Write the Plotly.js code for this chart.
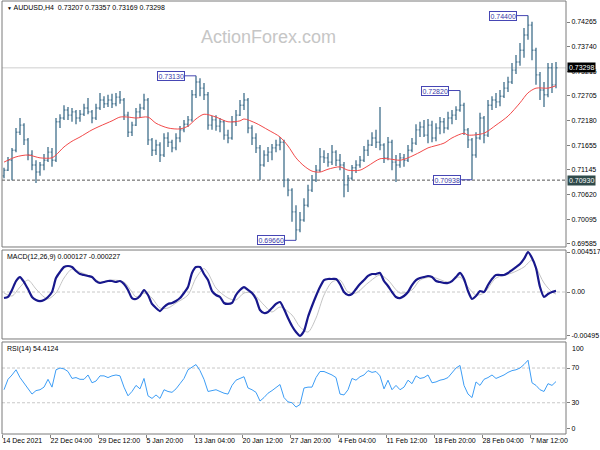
<!DOCTYPE html>
<html><head><meta charset="utf-8">
<script src="https://cdn.plot.ly/plotly-3.0.1.min.js"></script>
<style>html,body{margin:0;padding:0;background:#fff}#chart{width:600px;height:450px}</style>
</head><body><div id="chart"></div>
<script>
// ---------- data ----------
const symbol = 'AUDUSD,H4';
const lastBarText = ['0.73207', '0.73357', '0.73169', '0.73298'];

const open = [
 .7102,.7114,.7135,.7156,.7194,.7209,.7178,.7146,.7125,.7110,
 .7125,.7135,.7152,.7135,.7216,.7224,.7241,.7230,.7237,.7224,
 .7232,.7245,.7237,.7224,.7245,.7262,.7254,.7262,.7254,.7268,
 .7262,.7230,.7194,.7209,.7237,.7245,.7262,.7178,.7156,.7167,
 .7146,.7182,.7173,.7161,.7182,.7199,.7211,.7220,.7273,.7300,
 .7287,.7273,.7209,.7220,.7207,.7216,.7188,.7182,.7216,.7230,
 .7251,.7262,.7203,.7182,.7161,.7125,.7146,.7152,.7161,.7167,
 .7173,.7093,.7072,.7026,.6988,.7009,.7040,.7072,.7093,.7114,
 .7142,.7140,.7131,.7152,.7135,.7125,.7083,.7097,.7119,.7125,
 .7135,.7156,.7167,.7182,.7173,.7167,.7140,.7173,.7131,.7125,
 .7140,.7135,.7156,.7171,.7199,.7205,.7188,.7209,.7182,.7203,
 .7216,.7203,.7224,.7230,.7241,.7251,.7199,.7178,.7146,.7182,
 .7224,.7188,.7251,.7262,.7258,.7270,.7287,.7300,.7325,.7342,
 .7367,.7399,.7420,.7367,.7315,.7283,.7273,.7330,.7294];
const high = [
 .7119,.7142,.7161,.7203,.7224,.7213,.7182,.7156,.7135,.7131,
 .7148,.7163,.7161,.7224,.7232,.7251,.7247,.7245,.7241,.7241,
 .7254,.7266,.7241,.7254,.7277,.7270,.7273,.7275,.7277,.7281,
 .7266,.7237,.7216,.7245,.7254,.7275,.7266,.7182,.7178,.7173,
 .7192,.7194,.7178,.7192,.7207,.7220,.7228,.7283,.7313,.7308,
 .7298,.7279,.7228,.7230,.7224,.7220,.7199,.7228,.7241,.7262,
 .7277,.7266,.7209,.7192,.7167,.7156,.7163,.7169,.7178,.7184,
 .7178,.7097,.7076,.7040,.7026,.7055,.7083,.7104,.7125,.7161,
 .7156,.7150,.7167,.7156,.7148,.7131,.7104,.7125,.7135,.7144,
 .7165,.7178,.7194,.7199,.7247,.7171,.7184,.7178,.7146,.7150,
 .7148,.7167,.7182,.7211,.7216,.7220,.7222,.7218,.7213,.7226,
 .7224,.7237,.7241,.7249,.7282,.7256,.7203,.7182,.7194,.7235,
 .7228,.7262,.7270,.7277,.7283,.7300,.7311,.7340,.7357,.7382,
 .7414,.7440,.7427,.7372,.7321,.7300,.7340,.7340,.7342];
const low = [
 .7097,.7112,.7093,.7152,.7188,.7167,.7135,.7114,.7087,.7102,
 .7114,.7131,.7121,.7131,.7203,.7220,.7220,.7216,.7211,.7216,
 .7228,.7232,.7213,.7220,.7241,.7245,.7247,.7245,.7249,.7254,
 .7220,.7184,.7186,.7207,.7224,.7241,.7167,.7144,.7146,.7131,
 .7142,.7163,.7152,.7156,.7173,.7194,.7205,.7216,.7266,.7270,
 .7262,.7199,.7199,.7197,.7194,.7178,.7171,.7178,.7207,.7228,
 .7241,.7192,.7167,.7150,.7093,.7121,.7131,.7135,.7152,.7156,
 .7078,.7059,.7005,.6966,.6983,.7005,.7036,.7068,.7089,.7110,
 .7129,.7121,.7125,.7123,.7114,.7057,.7068,.7093,.7108,.7119,
 .7131,.7144,.7165,.7161,.7156,.7129,.7135,.7114,.7089,.7119,
 .7121,.7131,.7152,.7167,.7184,.7184,.7171,.7173,.7175,.7190,
 .7192,.7199,.7211,.7220,.7237,.7188,.7161,.70938,.7140,.7178,
 .7171,.7184,.7241,.7245,.7249,.7266,.7279,.7296,.7317,.7334,
 .7351,.7389,.7346,.7294,.7262,.7247,.7268,.7277,.7287];
const close = [
 .7114,.7135,.7156,.7194,.7209,.7178,.7146,.7125,.7110,.7125,
 .7135,.7152,.7135,.7216,.7224,.7241,.7230,.7237,.7224,.7232,
 .7245,.7237,.7224,.7245,.7262,.7254,.7262,.7254,.7268,.7262,
 .7230,.7194,.7209,.7237,.7245,.7262,.7178,.7156,.7167,.7146,
 .7182,.7173,.7161,.7182,.7199,.7211,.7220,.7273,.7300,.7287,
 .7273,.7209,.7220,.7207,.7216,.7188,.7182,.7216,.7230,.7251,
 .7262,.7203,.7182,.7161,.7125,.7146,.7152,.7161,.7167,.7173,
 .7093,.7072,.7026,.6988,.7009,.7040,.7072,.7093,.7114,.7142,
 .7140,.7131,.7152,.7135,.7125,.7083,.7097,.7119,.7125,.7135,
 .7156,.7167,.7182,.7173,.7167,.7140,.7173,.7131,.7125,.7140,
 .7135,.7156,.7171,.7199,.7205,.7188,.7209,.7182,.7203,.7216,
 .7203,.7224,.7230,.7241,.7251,.7199,.7178,.7146,.7182,.7224,
 .7188,.7251,.7262,.7258,.7270,.7287,.7300,.7325,.7342,.7367,
 .7399,.7420,.7367,.7315,.7283,.7273,.7330,.7294,.7330];

const maBars = [0,3,6,9,12,13,15,17,19,22,24,27,29,31,33,36,38,41,44,46,48,50,53,56,59,60,63,66,69,71,73,75,77,79,81,84,86,89,91,94,96,99,101,104,106,110,112,115,116,120,123,126,129,131,133,136,138];
const maValues = [.7131,.7142,.7146,.7140,.7140,.7146,.7163,.7175,.7184,.7199,.7207,.7218,.7226,.7226,.7224,.7226,.7213,.7203,.7201,.7207,.7222,.7232,.7226,.7216,.7218,.7222,.7213,.7199,.7184,.7165,.7140,.7123,.7112,.7110,.7116,.7121,.7114,.7114,.7123,.7138,.7138,.7135,.7140,.7152,.7161,.7171,.7182,.7192,.7188,.7192,.7209,.7228,.7256,.7277,.7287,.7287,.7292];

const macd = [
 -0.00068,-0.00056,0.00023,0.00124,0.00169,0.00113,0.00034,-0.00056,-0.00090,-0.00102,
 -0.00090,-0.00056,0,0.00158,0.00226,0.00282,0.00294,0.00282,0.00237,0.00203,
 0.00192,0.00181,0.00169,0.00124,0.00102,0.00113,0.00124,0.00124,0.00113,0.00124,
 0.00090,0.00023,-0.00068,-0.00079,-0.00045,0.00023,-0.00034,-0.00135,-0.00181,-0.00215,
 -0.00169,-0.00135,-0.00124,-0.00102,-0.00068,-0.00011,0.00056,0.00215,0.00282,0.00282,
 0.00203,0.00135,0.00011,-0.00034,-0.00056,-0.00124,-0.00135,-0.00124,-0.00034,0.00023,
 0.00056,0.00023,-0.00011,-0.00079,-0.00203,-0.00237,-0.00226,-0.00181,-0.00135,-0.00113,
 -0.00192,-0.00294,-0.00384,-0.00452,-0.00495,-0.00440,-0.00282,-0.00158,-0.00045,0.00056,
 0.00135,0.00147,0.00147,0.00147,0.00090,0,-0.00034,-0.00023,0.00034,0.00090,
 0.00135,0.00181,0.00203,0.00203,0.00215,0.00124,0.00068,0,-0.00056,-0.00068,
 -0.00045,0,0.00079,0.00135,0.00158,0.00169,0.00181,0.00169,0.00124,0.00113,
 0.00102,0.00102,0.00124,0.00169,0.00215,0.00147,0.00011,-0.00079,-0.00045,0.00011,
 0,0.00079,0.00147,0.00192,0.00192,0.00192,0.00215,0.00248,0.00282,0.00316,
 0.00373,0.004517,0.00384,0.00271,0.00056,-0.00056,-0.00023,0,0.000127];

const sigBars = [0,2,4,6,8,10,11,13,15,17,19,22,24,27,30,32,33,35,37,39,41,43,46,48,50,51,53,56,58,60,62,65,67,69,72,74,76,78,80,82,84,86,88,91,94,96,99,102,104,107,111,114,116,118,120,123,127,130,132,133,135,137,138];
const sigValues = [-0.00011,-0.00045,0.00056,0.00135,0.00034,-0.00056,-0.00079,-0.00011,0.00158,0.00260,0.00226,0.00169,0.00113,0.00135,0.00113,0,-0.00056,-0.00011,-0.00068,-0.00181,-0.00181,-0.00124,-0.00034,0.00158,0.00265,0.00215,0.00045,-0.00068,-0.00090,-0.00011,-0.00011,-0.00147,-0.00226,-0.00169,-0.00260,-0.00395,-0.00452,-0.00294,-0.00034,0.00113,0.00135,0,-0.00011,0.00102,0.00192,0.00135,-0.00011,0.00023,0.00135,0.00169,0.00113,0.00169,0.00056,-0.00034,-0.00011,0.00158,0.00215,0.00282,0.00361,0.00282,0.00102,0,-0.000227];

const rsi = [
 45,57,62,68,59,53,47,40,44,45,
 48,57,48,68,70,69,66,58,59,57,
 57,62,53,55,61,61,59,61,62,61,
 48,38,43,50,46,58,38,35,39,35,
 45,43,42,46,52,58,68,71,74,67,
 57,43,44,45,43,41,40,50,56,58,
 60,47,45,42,32,36,41,44,47,51,
 36,31,30,25,28,47,48,48,59,66,
 66,64,62,59,40,39,45,58,56,60,
 62,67,65,66,61,46,56,45,50,45,
 48,56,52,61,58,59,62,53,54,56,
 57,59,65,70,73,50,40,36,54,50,
 57,59,62,58,60,62,65,67,68,70,
 74,79,53,50,45,43,52,50,54.4124];

const dateLabels = ['14 Dec 2021','22 Dec 04:00','29 Dec 12:00','5 Jan 20:00','13 Jan 04:00','20 Jan 12:00','27 Jan 20:00','4 Feb 04:00','11 Feb 12:00','18 Feb 20:00','28 Feb 04:00','7 Mar 12:00'];
const dateLabelBars = [0,12,24,36,48,60,72,84,96,108,120,132];

const priceTicks = [0.74265,0.73740,0.73215,0.72705,0.72180,0.71655,0.71145,0.70620,0.70095,0.69585];
const priceTickText = ['0.74265','0.73740','0.73215','0.72705','0.72180','0.71655','0.71145','0.70620','0.70095','0.69585'];
const macdTicks = [0.004517, 0, -0.00495];
const macdTickText = ['0.004517','0.00','-0.00495'];
const rsiLevels = [70, 30];
const rsiTicks = [70, 30, 0];
const rsiTop = '100';

const currentPrice = 0.73298;
const supportLevel = 0.70930;

const markLabels = ['0.73130','0.69660','0.74400','0.72820','0.70938'];
const markBars = [48, 73, 131, 114, 117];
const markPrices = [0.73130, 0.69660, 0.74400, 0.72820, 0.70938];

const macdTitle = 'MACD(12,26,9) 0.000127 -0.000227';
const rsiTitle = 'RSI(14) 54.4124';
const watermark = 'ActionForex.com';

// ---------- chart ----------
const FONT = 'Liberation Sans, Arial, sans-serif';
const bars = open.map((_, i) => i);
const BAR_COLOR = '#4f7a94';

const D_MAIN = [0.4319, 1], D_MACD = [0.2194, 0.4249], D_RSI = [0.012, 0.2125];

const traces = [
  {type: 'ohlc', x: bars, open: open, high: high, low: low, close: close,
   xaxis: 'x', yaxis: 'y', tickwidth: 0.35, hoverinfo: 'skip',
   increasing: {line: {color: BAR_COLOR, width: 1.4}},
   decreasing: {line: {color: BAR_COLOR, width: 1.4}}, showlegend: false},
  {type: 'scatter', mode: 'lines', x: maBars, y: maValues, xaxis: 'x', yaxis: 'y',
   line: {color: '#f24a4a', width: 1, shape: 'spline', smoothing: 0.8}, hoverinfo: 'skip', showlegend: false},
  {type: 'scatter', mode: 'lines', x: sigBars, y: sigValues, xaxis: 'x', yaxis: 'y2',
   line: {color: '#c4c4c4', width: 1, shape: 'spline', smoothing: 0.8}, hoverinfo: 'skip', showlegend: false},
  {type: 'scatter', mode: 'lines', x: bars, y: macd, xaxis: 'x', yaxis: 'y2',
   line: {color: '#18188c', width: 2.2, shape: 'spline', smoothing: 0.6}, hoverinfo: 'skip', showlegend: false},
  {type: 'scatter', mode: 'lines', x: bars, y: rsi, xaxis: 'x', yaxis: 'y3',
   line: {color: '#3d9df5', width: 1}, hoverinfo: 'skip', showlegend: false}
];

const tickFont = {family: FONT, size: 7, color: '#000'};
const yCommon = {side: 'right', anchor: 'x', showgrid: false, zeroline: false,
  ticks: 'outside', ticklen: 3, tickcolor: '#808080', tickfont: tickFont,
  showline: false, fixedrange: true};

const shapes = [];
// panel frames (the RSI frame reaches down to the time axis)
[D_MAIN, D_MACD, [0, D_RSI[1]]].forEach(d => shapes.push({type: 'rect', xref: 'paper', yref: 'paper',
  x0: 0, x1: 1, y0: d[0], y1: d[1], line: {color: '#7a7a7a', width: 1}, layer: 'above'}));
// current price line and support level
shapes.push({type: 'line', xref: 'paper', x0: 0, x1: 1, yref: 'y', y0: currentPrice, y1: currentPrice,
  line: {color: '#cfcfcf', width: 1}, layer: 'below'});
shapes.push({type: 'line', xref: 'paper', x0: 0, x1: 1, yref: 'y', y0: supportLevel, y1: supportLevel,
  line: {color: '#555555', width: 1, dash: '3px,2px'}, layer: 'below'});
// MACD zero line
shapes.push({type: 'line', xref: 'paper', x0: 0, x1: 1, yref: 'y2', y0: 0, y1: 0,
  line: {color: '#c8c8c8', width: 1, dash: '3px,2px'}, layer: 'below'});
// RSI levels
rsiLevels.forEach(v => shapes.push({type: 'line', xref: 'paper', x0: 0, x1: 1, yref: 'y3', y0: v, y1: v,
  line: {color: '#c8c8c8', width: 1, dash: '3px,2px'}, layer: 'below'}));

const annotations = [];
annotations.push({xref: 'paper', yref: 'paper', x: 0, y: 1, xanchor: 'left', yanchor: 'top', xshift: 3, yshift: -1,
  showarrow: false, text: '<span style="font-size:5px">▼</span> ' + symbol + '  ' + lastBarText.join(' '),
  font: {family: FONT, size: 7, color: '#000'}});
annotations.push({xref: 'paper', yref: 'paper', x: 0.472, y: 0.917, xanchor: 'center', yanchor: 'middle',
  showarrow: false, text: watermark, font: {family: FONT, size: 18, color: '#c6c6c6'}});
annotations.push({xref: 'paper', yref: 'paper', x: 0, y: D_MACD[1], xanchor: 'left', yanchor: 'top', xshift: 3, yshift: -1,
  showarrow: false, text: macdTitle, font: {family: FONT, size: 7, color: '#000'}});
annotations.push({xref: 'paper', yref: 'paper', x: 0, y: D_RSI[1], xanchor: 'left', yanchor: 'top', xshift: 3, yshift: -1,
  showarrow: false, text: rsiTitle, font: {family: FONT, size: 7, color: '#000'}});
// high / low markers
markLabels.forEach((t, i) => annotations.push({x: markBars[i], y: markPrices[i], xref: 'x', yref: 'y',
  text: t, showarrow: true, arrowhead: 0, arrowwidth: 1, arrowcolor: '#4646b4', ax: -25, ay: 0,
  standoff: 0, bgcolor: '#ffffff', bordercolor: '#4646b4', borderwidth: 1, borderpad: 0.5,
  font: {family: FONT, size: 7, color: '#3a3aa8'}}));
// right-axis price boxes
annotations.push({xref: 'paper', x: 1, xanchor: 'left', xshift: 1, yref: 'y', y: currentPrice, yanchor: 'middle',
  showarrow: false, text: currentPrice.toFixed(5), bgcolor: '#000000', borderpad: 1,
  font: {family: FONT, size: 7, color: '#ffffff'}});
annotations.push({xref: 'paper', x: 1, xanchor: 'left', xshift: 1, yref: 'y', y: supportLevel, yanchor: 'middle',
  showarrow: false, text: supportLevel.toFixed(5), bgcolor: '#2f4a4a', borderpad: 1,
  font: {family: FONT, size: 7, color: '#ffffff'}});
// RSI top label, drawn just inside the panel like the terminal does
annotations.push({xref: 'paper', x: 1, xanchor: 'left', xshift: 4, yref: 'paper', y: D_RSI[1],
  yanchor: 'top', yshift: -1, showarrow: false, text: rsiTop, font: tickFont});

const layout = {
  width: 600, height: 450,
  margin: {l: 2, r: 34, t: 1, b: 16, pad: 0},
  paper_bgcolor: '#ffffff', plot_bgcolor: '#ffffff',
  showlegend: false, dragmode: false,
  xaxis: {type: 'linear', range: [-0.5, 140.5], anchor: 'free', position: 0, showgrid: false, zeroline: false,
    rangeslider: {visible: false}, showline: false,
    tickvals: dateLabelBars.map(b => b - 0.5), ticktext: dateLabels, tickangle: 0,
    ticks: 'outside', ticklen: 3, tickcolor: '#808080', tickfont: tickFont,
    ticklabelposition: 'outside right', fixedrange: true},
  yaxis: Object.assign({}, yCommon, {domain: D_MAIN, range: [0.69520, 0.74708],
    tickvals: priceTicks, ticktext: priceTickText}),
  yaxis2: Object.assign({}, yCommon, {domain: D_MACD, range: [-0.005306, 0.004742],
    tickvals: macdTicks, ticktext: macdTickText}),
  yaxis3: Object.assign({}, yCommon, {domain: D_RSI, range: [0, 100],
    tickvals: rsiTicks, ticktext: rsiTicks.map(String)}),
  shapes: shapes,
  annotations: annotations
};

Plotly.newPlot('chart', traces, layout, {staticPlot: true, displayModeBar: false});
</script>
</body></html>
